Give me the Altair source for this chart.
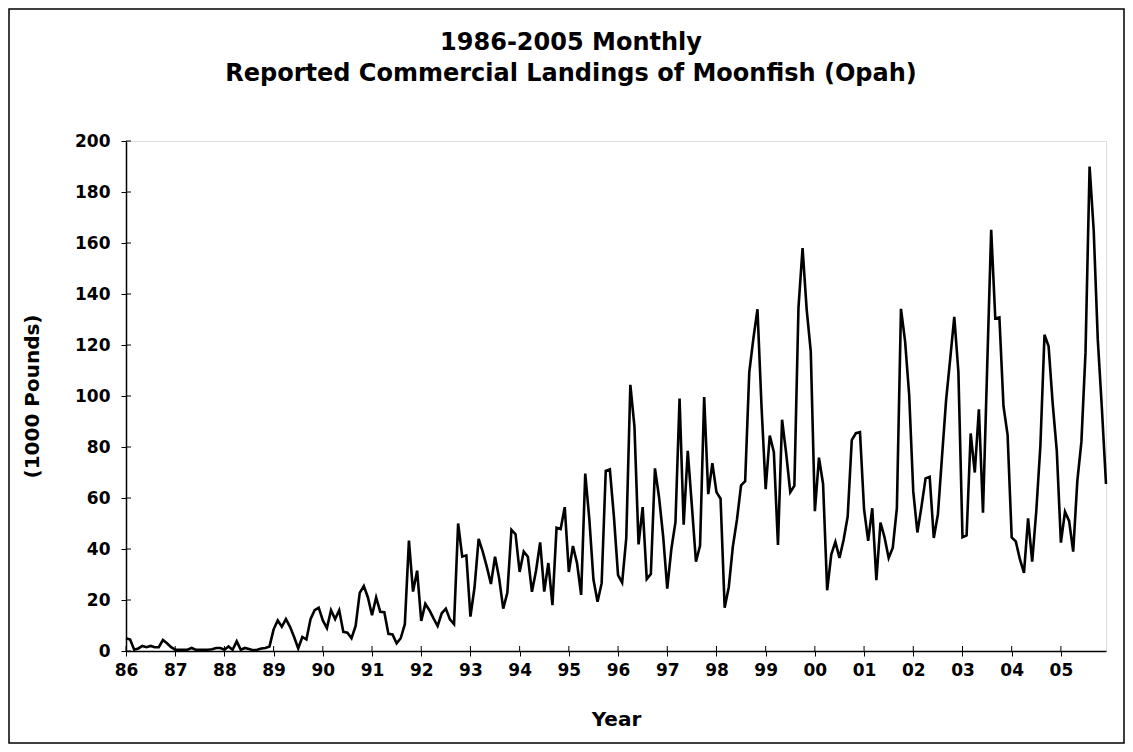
import altair as alt
import pandas as pd

year_labels = ["86", "87", "88", "89", "90", "91", "92", "93", "94", "95",
               "96", "97", "98", "99", "00", "01", "02", "03", "04", "05"]

y_ticks = [0, 20, 40, 60, 80, 100, 120, 140, 160, 180, 200]

title_lines = ["1986-2005 Monthly", "Reported Commercial Landings of Moonfish (Opah)"]

# Monthly landings, 1000 pounds, Jan 1986 .. Dec 2005
landings_1986_1990 = [
    5, 4.5, 0.5, 1, 2, 1.5, 2, 1.5, 1.5, 4.3, 3, 1.5,
    0.5, 0.5, 0.5, 0.5, 1.2, 0.5, 0.5, 0.5, 0.5, 0.7, 1.2, 1.2,
    0.5, 1.8, 0.5, 3.8, 0.5, 1.2, 0.8, 0.3, 0.5, 1.0, 1.2, 1.8,
    8.5, 12, 9.5, 12.5, 9.5, 5.5, 1, 5.5, 4.5, 12.5, 16, 17,
    12, 9, 16, 12.5, 16, 7.5, 7.2, 5, 9.8, 22.8, 25.5, 21,
]
landings_1991_1995 = [
    14, 21, 15.4, 15.2, 6.7, 6.5, 3, 5, 10.5, 43.3, 23.3, 31.5,
    11.8, 18.5, 16, 12.8, 9.8, 14.8, 16.6, 12.4, 10.5, 50, 37, 37.5,
    13.5, 25, 44, 39, 33, 26.3, 37, 28.5, 16.6, 22.8, 47.5, 45.8,
    31, 39, 37, 23.2, 31.5, 42.6, 23.3, 34.5, 18, 48.3, 47.8, 56.4,
    31, 41.2, 34.4, 22, 69.6, 51.6, 28, 19.3, 26.6, 70.6, 71.2, 52.5,
]
landings_1996_2000 = [
    29.8, 26.8, 44.2, 104.4, 88, 41.8, 56.4, 28.2, 30.2, 71.6, 60.3, 45,
    24.5, 40, 50.5, 99, 49.5, 78.5, 57, 35, 41.3, 99.6, 61.5, 73.7,
    62.3, 59.7, 17, 25, 41, 51.5, 65, 66.6, 109.3, 122.5, 134, 95.5,
    63.5, 84.5, 78, 41.6, 90.7, 77.5, 62.3, 64.8, 134.6, 158, 134, 117.5,
    54.8, 75.8, 65.5, 23.8, 37.8, 42.8, 36.5, 43.5, 52.7, 82.7, 85.4, 85.8,
]
landings_2001_2005 = [
    55.5, 43.2, 56, 27.8, 50.4, 44.5, 36.5, 40.5, 56, 134.2, 121.5, 100.4,
    62.5, 46.5, 56.6, 67.7, 68.3, 44.3, 53.5, 76, 98.3, 114.5, 131, 109.5,
    44.6, 45.3, 85.3, 70, 94.8, 54.2, 110, 165.2, 130.4, 130.8, 96, 84.8,
    44.5, 43, 36, 30.6, 52, 35, 55, 80.5, 124, 119.5, 97, 78.5,
    42.5, 54.6, 51, 39, 66.5, 82, 117, 190, 165, 122, 95, 65.5,
]

landings = landings_1986_1990 + landings_1991_1995 + landings_1996_2000 + landings_2001_2005
months = list(range(len(landings)))
year_starts = [12 * k for k in range(len(year_labels))]

df = pd.DataFrame({"month": months, "landings": landings})
xt = pd.DataFrame({"month": year_starts})
yt = pd.DataFrame({"v": y_ticks})

W, H = 980, 510
FONT = "DejaVu Sans"

x_scale = alt.Scale(domain=[0, len(landings) - 1], nice=False, zero=False)
y_scale = alt.Scale(domain=[0, 200], nice=False)

label_expr = "[" + ",".join("'%s'" % s for s in year_labels) + "][round(datum.value / 12)]"

line = alt.Chart(df).mark_line(color="black", strokeWidth=2.6).encode(
    x=alt.X("month:Q", scale=x_scale,
            axis=alt.Axis(values=year_starts, labelExpr=label_expr, title="Year",
                          grid=False, tickSize=5, tickColor="black", domainColor="black",
                          domainWidth=1.5, labelFont=FONT, labelFontWeight="bold",
                          labelFontSize=17, labelColor="black", labelPadding=6,
                          labelBaseline="top", titleFont=FONT, titleFontWeight="bold",
                          titleFontSize=20, titleColor="black", titleY=68,
                          titleBaseline="middle", labelFlush=False, labelOverlap=False)),
    y=alt.Y("landings:Q", scale=y_scale,
            axis=alt.Axis(values=y_ticks, title="(1000 Pounds)", grid=False, tickSize=5,
                          tickColor="black", domainColor="black", domainWidth=1.5,
                          labelFont=FONT, labelFontWeight="bold", labelFontSize=17,
                          labelColor="black", labelPadding=11, titleFont=FONT,
                          titleFontWeight="bold", titleFontSize=20, titleColor="black",
                          titleX=-94, titleY=H / 2, titleBaseline="middle",
                          titleAlign="center", titleAngle=270, labelFlush=False)),
)

inner_xticks = alt.Chart(xt).mark_rule(color="black", strokeWidth=1).encode(
    x=alt.X("month:Q", scale=x_scale), y=alt.value(H), y2=alt.value(H - 5))
inner_yticks = alt.Chart(yt).mark_rule(color="black", strokeWidth=1).encode(
    y=alt.Y("v:Q", scale=y_scale), x=alt.value(0), x2=alt.value(5))

one = pd.DataFrame({"a": [0]})

frame = alt.Chart(one).mark_rect(
    fill="white", fillOpacity=0, stroke="black", strokeWidth=1.5).encode(
    x=alt.value(-117), x2=alt.value(W + 18), y=alt.value(-132), y2=alt.value(H + 92))

title_style = dict(font=FONT, fontWeight="bold", fontSize=24, color="black",
                   align="center", baseline="middle")
title1 = alt.Chart(one).mark_text(text=title_lines[0], **title_style).encode(
    x=alt.value(445), y=alt.value(-98))
title2 = alt.Chart(one).mark_text(text=title_lines[1], **title_style).encode(
    x=alt.value(445), y=alt.value(-67))

chart = alt.layer(frame, line, inner_xticks, inner_yticks, title1, title2).properties(
    width=W, height=H,
    padding={"left": 118, "right": 19, "top": 133, "bottom": 93},
    autosize=alt.AutoSizeParams(type="none"),
).configure_view(stroke="#808080", strokeWidth=1).configure(background="white")

chart.save("out.html", embed_options={"renderer": "svg", "actions": False})
